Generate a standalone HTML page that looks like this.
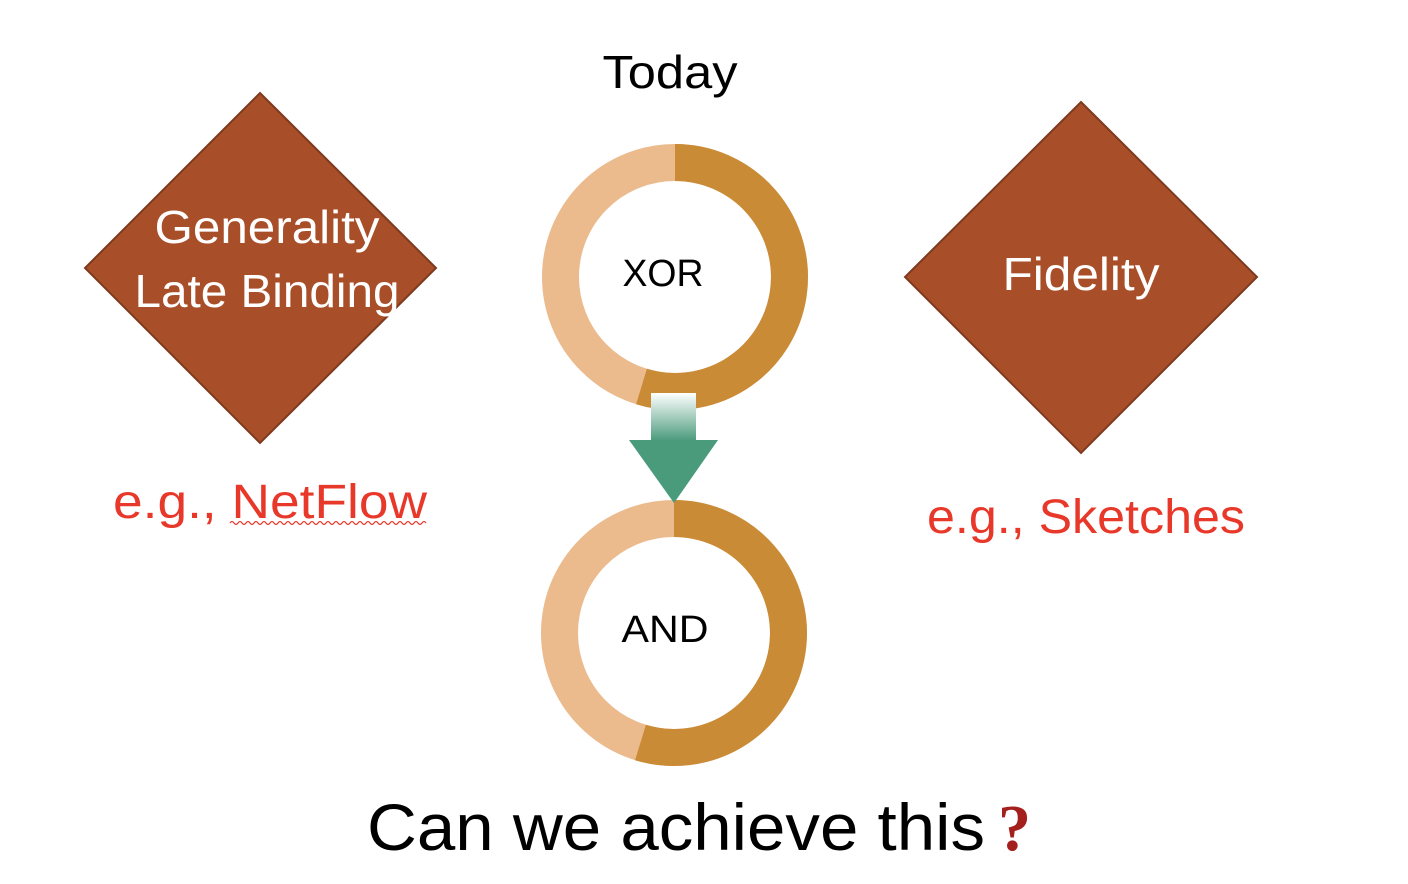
<!DOCTYPE html>
<html><head><meta charset="utf-8"><style>html,body{margin:0;padding:0;background:#fff;}svg{display:block}</style></head>
<body>
<svg width="1408" height="884" viewBox="0 0 1408 884" xmlns="http://www.w3.org/2000/svg" font-family="'Liberation Sans', sans-serif">
<defs>
<linearGradient id="g" x1="0" y1="0" x2="0" y2="1">
<stop offset="0" stop-color="#ffffff"/><stop offset="1" stop-color="#4a9a7c"/>
</linearGradient>
</defs>
<polygon points="260,93 436,268 260,443 85,268" fill="#a84f2a" stroke="#7e3a1e" stroke-width="2"/>
<polygon points="1081,102 1257,277 1081,453 905,277" fill="#a84f2a" stroke="#7e3a1e" stroke-width="2"/>
<text x="670" y="88" font-size="46" text-anchor="middle" textLength="135" lengthAdjust="spacingAndGlyphs">Today</text>
<text x="267" y="243" font-size="46" fill="#fff" text-anchor="middle" textLength="225" lengthAdjust="spacingAndGlyphs">Generality</text>
<text x="267" y="307" font-size="46" fill="#fff" text-anchor="middle" textLength="265" lengthAdjust="spacingAndGlyphs">Late Binding</text>
<text x="1081" y="290" font-size="46" fill="#fff" text-anchor="middle" textLength="157" lengthAdjust="spacingAndGlyphs">Fidelity</text>
<circle cx="675" cy="277" r="114.5" fill="#fff" stroke="#ebbb8e" stroke-width="37"/>
<path d="M675 162.5 A114.5 114.5 0 1 1 641.5 386.5" fill="none" stroke="#c98b36" stroke-width="37"/>
<circle cx="674" cy="633" r="114.5" fill="#fff" stroke="#ebbb8e" stroke-width="37"/>
<path d="M674 518.5 A114.5 114.5 0 1 1 640.5 742.5" fill="none" stroke="#c98b36" stroke-width="37"/>
<rect x="651" y="393" width="45" height="48" fill="url(#g)"/>
<polygon points="629,440 718,440 674,503" fill="#4a9a7c"/>
<text x="663" y="286" font-size="38" text-anchor="middle" textLength="81" lengthAdjust="spacingAndGlyphs">XOR</text>
<text x="665" y="642" font-size="38" text-anchor="middle" textLength="87" lengthAdjust="spacingAndGlyphs">AND</text>
<text x="113" y="518" font-size="48" fill="#e8382a" textLength="314" lengthAdjust="spacingAndGlyphs">e.g., NetFlow</text>
<path d="M230 523 q2 -3 4 0 t4 0 t4 0 t4 0 t4 0 t4 0 t4 0 t4 0 t4 0 t4 0 t4 0 t4 0 t4 0 t4 0 t4 0 t4 0 t4 0 t4 0 t4 0 t4 0 t4 0 t4 0 t4 0 t4 0 t4 0 t4 0 t4 0 t4 0 t4 0 t4 0 t4 0 t4 0 t4 0 t4 0 t4 0 t4 0 t4 0 t4 0 t4 0 t4 0 t4 0 t4 0 t4 0 t4 0 t4 0 t4 0 t4 0 t4 0 t4 0" fill="none" stroke="#e8382a" stroke-width="1.2"/>
<text x="927" y="533" font-size="48" fill="#e8382a" textLength="318" lengthAdjust="spacingAndGlyphs">e.g., Sketches</text>
<text x="367" y="850" font-size="66" textLength="618" lengthAdjust="spacingAndGlyphs">Can we achieve this</text>
<text x="998" y="850" font-size="66" font-weight="bold" fill="#a3201c" font-family="'Liberation Serif', serif">?</text>
</svg>
</body></html>
